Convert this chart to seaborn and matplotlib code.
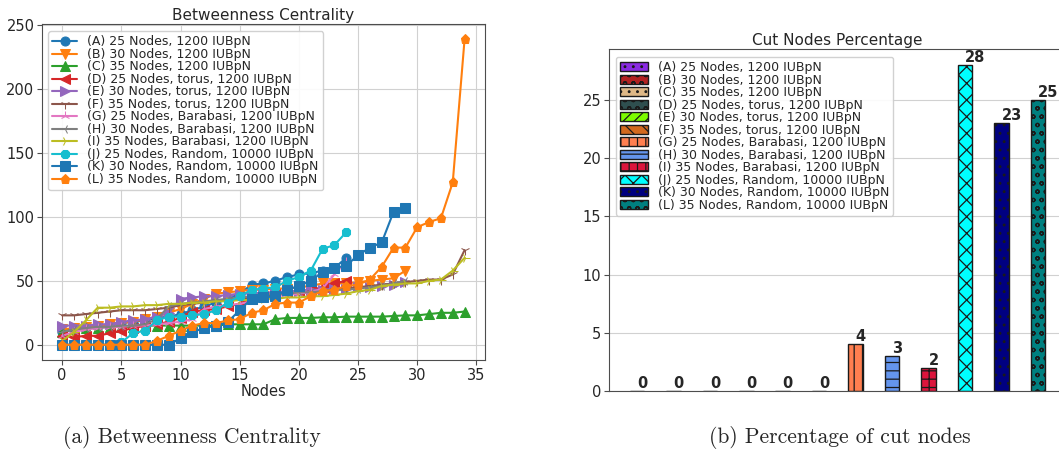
import matplotlib
matplotlib.use("Agg")
import matplotlib.pyplot as plt
import matplotlib.patches as mpatches
import seaborn as sns
import pandas as pd

# ---- series labels ----
labels = [
    "(A) 25 Nodes, 1200 IUBpN",
    "(B) 30 Nodes, 1200 IUBpN",
    "(C) 35 Nodes, 1200 IUBpN",
    "(D) 25 Nodes, torus, 1200 IUBpN",
    "(E) 30 Nodes, torus, 1200 IUBpN",
    "(F) 35 Nodes, torus, 1200 IUBpN",
    "(G) 25 Nodes, Barabasi, 1200 IUBpN",
    "(H) 30 Nodes, Barabasi, 1200 IUBpN",
    "(I) 35 Nodes, Barabasi, 1200 IUBpN",
    "(J) 25 Nodes, Random, 10000 IUBpN",
    "(K) 30 Nodes, Random, 10000 IUBpN",
    "(L) 35 Nodes, Random, 10000 IUBpN",
]

# ---- sorted betweenness centrality per node ----
bc_a = [10, 12, 14, 15, 16, 17, 18, 19, 21, 22, 24, 27, 30, 33, 36, 40, 47, 48, 50, 53, 55, 56, 58, 60, 68]
bc_b = [12, 13, 14, 15, 16, 17, 18, 20, 22, 25, 28, 32, 36, 40, 41, 42, 43, 43, 44, 44, 45, 46, 48, 48, 48, 49, 50, 51, 52, 58]
bc_c = [10, 12, 13, 13, 14, 14, 14, 15, 15, 15, 15, 15, 15, 15, 16, 16, 16, 16, 20, 21, 21, 21, 21.5, 21.5, 22,
        22, 22, 22, 22.5, 23, 23, 24, 25, 25, 26]
bc_d = [7, 6, 7, 7, 9, 11, 13, 15, 16, 18, 21, 26, 27, 28, 30, 32, 36, 38, 40, 41, 42, 43, 45, 48, 50]
bc_e = [15, 15, 15, 16, 16, 18, 19, 20, 22, 25, 36, 37, 38, 38, 39, 40, 40, 41, 41, 42, 42, 43, 43, 44, 44, 45,
        45, 46, 47, 49]
bc_f = [23, 23, 24, 25, 26, 27, 27, 27, 28, 29, 31, 32, 33, 34, 35, 36, 37, 38, 39, 40, 40, 41, 42, 43, 44, 45,
        46, 47, 48, 49, 50, 51, 51, 55, 74]
bc_g = [7, 10, 12, 13, 14, 14, 15, 15, 16, 17, 18, 20, 28, 30, 31, 32, 34, 36, 38, 39, 40, 41, 44, 55, 65]
bc_h = [10, 12, 13, 14, 14, 15, 15, 16, 20, 30, 32, 33, 34, 35, 36, 37, 38, 39, 40, 40, 41, 41, 42, 43, 43, 44,
        45, 46, 48, 50]
bc_i = [3, 10, 19, 29, 29, 30, 30, 31, 31, 32, 32, 33, 33, 34, 34, 35, 35, 36, 36, 37, 37, 38, 38, 39, 40, 42,
        43, 46, 47, 48, 48, 50, 51, 58, 68]
bc_j = [0, 0, 0, 0, 0, 2, 9, 11, 19, 22, 22, 23, 24, 27, 33, 38, 43, 44, 45, 50, 53, 58, 75, 78, 88]
bc_k = [0, 0, 0, 0, 0, 0, 0, 0, 0, 0, 5, 10, 13, 15, 18, 27, 36, 37, 38, 43, 46, 50, 57, 60, 62, 70, 76, 80,
        104, 107]
bc_l = [0, 0, 0, 0, 0, 0, 0, 0, 3, 7, 11, 15, 17, 17, 19, 20, 25, 27, 32, 33, 33, 38, 42, 43, 46, 47, 51, 61,
        76, 76, 92, 96, 99, 127, 239]
bc_series = [bc_a, bc_b, bc_c, bc_d, bc_e, bc_f, bc_g, bc_h, bc_i, bc_j, bc_k, bc_l]

# ---- cut node percentage per configuration ----
cut_pct = [0, 0, 0, 0, 0, 0, 4, 3, 2, 28, 23, 25]

line_markers = ["o", "v", "^", "<", ">", "1", "2", "3", "4", "8", "s", "p"]
line_colors = sns.color_palette("tab10", 10) + sns.color_palette("tab10", 2)

bar_colors = ["blueviolet", "firebrick", "burlywood", "darkslategray", "lawngreen", "chocolate",
              "coral", "cornflowerblue", "crimson", "cyan", "navy", "teal"]
bar_hatches = ["..", "oo", "..", "oo", "///", "\\\\", "||", "--", "++", "xx", "..", "oo"]

sns.set_style("whitegrid", {"axes.edgecolor": "0.3", "grid.color": "0.82",
                            "xtick.bottom": True, "ytick.left": True})
plt.rcParams["font.family"] = ["DejaVu Sans"]
plt.rcParams["hatch.color"] = "black"
plt.rcParams["hatch.linewidth"] = 0.9

fig = plt.figure(figsize=(10.59, 4.61), dpi=100)
ax1 = fig.add_axes([0.0397, 0.219, 0.418, 0.729])
ax2 = fig.add_axes([0.575, 0.152, 0.4315, 0.742])

TICK_FS = 10.5
LEG_FS = 9.0

# ---- left panel: betweenness centrality ----
for vals, lab, mk, col in zip(bc_series, labels, line_markers, line_colors):
    sns.lineplot(x=list(range(len(vals))), y=vals, ax=ax1, marker=mk, color=col, label=lab,
                 markersize=6.5, markeredgecolor=col, linewidth=1.5)

ax1.set_title("Betweenness Centrality", fontsize=11, pad=3)
ax1.set_xlabel("Nodes", fontsize=TICK_FS, labelpad=1)
ax1.set_ylabel("")
ax1.set_xticks([0, 5, 10, 15, 20, 25, 30, 35])
ax1.set_yticks([0, 50, 100, 150, 200, 250])
ax1.tick_params(labelsize=TICK_FS, length=3.5, color="0.3", pad=2)
ax1.legend(loc="upper left", bbox_to_anchor=(0.0135, 0.979), borderaxespad=0, fontsize=LEG_FS,
           labelspacing=-0.04, handlelength=2.0, borderpad=0.35, handletextpad=0.8,
           frameon=True, edgecolor="0.8", framealpha=0.9)

# ---- right panel: cut nodes percentage ----
df_cut = pd.DataFrame({"config": labels, "pct": cut_pct})
sns.barplot(data=df_cut, x="config", y="pct", hue="config", palette=bar_colors, width=0.4,
            saturation=1, edgecolor="0.1", linewidth=1.0, legend=False, ax=ax2)

for patch in ax2.patches:
    idx = int(round(patch.get_x() + patch.get_width() / 2))
    patch.set_hatch(bar_hatches[idx])

for i, v in enumerate(cut_pct):
    ax2.text(i, v, str(v), ha="left", va="bottom", fontsize=10.5, fontweight="bold")

ax2.set_xlim(-0.77, 11.77)
ax2.set_ylim(0, 29.4)
ax2.set_xticks([])
ax2.set_xlabel("")
ax2.set_ylabel("")
ax2.set_yticks([0, 5, 10, 15, 20, 25])
ax2.grid(axis="x", visible=False)
ax2.tick_params(labelsize=TICK_FS, length=3.5, color="0.3", pad=2)
ax2.set_title("Cut Nodes Percentage", fontsize=11, pad=3)

handles = [mpatches.Patch(facecolor=c, edgecolor="0.1", hatch=h, label=l)
           for c, h, l in zip(bar_colors, bar_hatches, labels)]
ax2.legend(handles=handles, loc="upper left", bbox_to_anchor=(0.015, 0.977), borderaxespad=0,
           fontsize=LEG_FS, labelspacing=-0.04, handlelength=2.2, borderpad=0.35, handletextpad=0.8,
           frameon=True, edgecolor="0.8", framealpha=0.9)

# ---- sub-figure captions ----
fig.text(0.181, 0.052, "(a) Betweenness Centrality", fontsize=15.5, family="cmr10",
         ha="center", va="center")
fig.text(0.793, 0.052, "(b) Percentage of cut nodes", fontsize=15.5, family="cmr10",
         ha="center", va="center")

fig.savefig("out.png", dpi=100)
